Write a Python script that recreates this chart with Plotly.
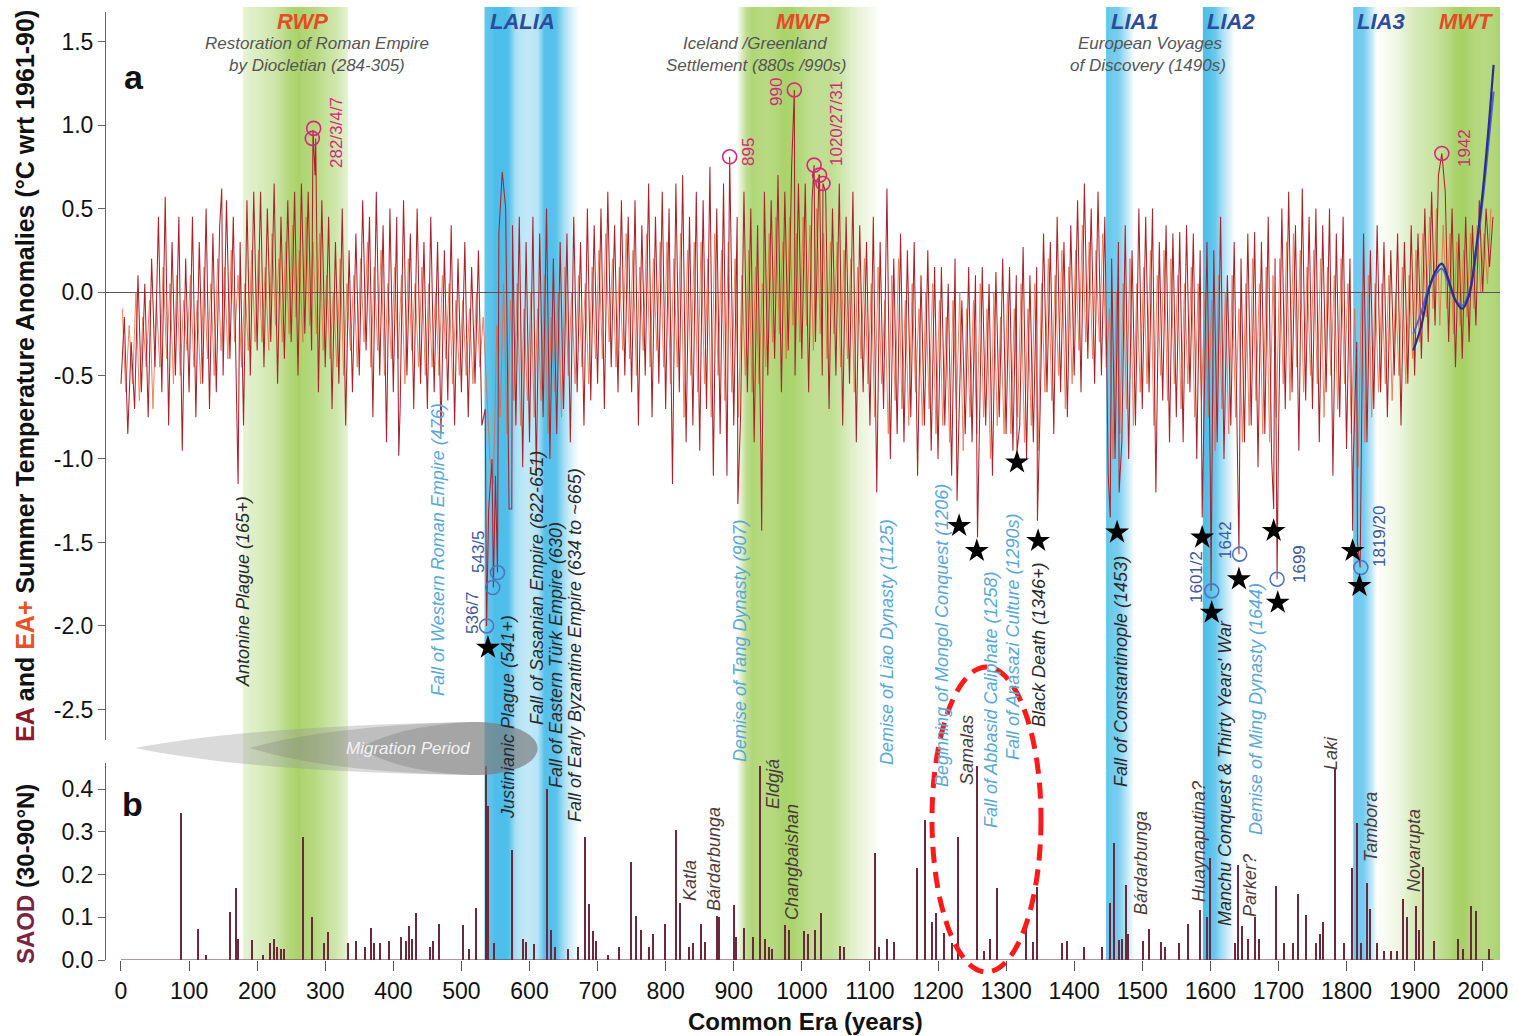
import plotly.graph_objects as go

# ---------------- DATA ----------------
# EA summer temperature anomalies, read every 5 years (0..2015)
TEMP_STEP = 5
TEMP_C00 = [-0.55, -0.15, -0.85, -0.30, -0.70, 0.10, -0.60, 0.05, -0.75, 0.20, -0.45, 0.45, -0.60, 0.40, -0.80, 0.30, -0.50, 0.45, -0.95, 0.20]
TEMP_C01 = [-0.60, 0.45, -0.75, 0.30, -0.55, 0.50, -0.70, 0.35, -0.60, 0.40, -0.50, 0.55, -0.40, 0.45, -0.60, 0.30, -0.80, 0.55, -0.50, 0.60]
TEMP_C02 = [-0.35, 0.60, -0.45, 0.50, -0.30, 0.65, -0.55, 0.45, -0.40, 0.55, -0.30, 0.60, -0.50, 0.65, -0.25, 0.60, -0.35, 0.70, -0.60, 0.55]
TEMP_C03 = [-0.45, 0.45, -0.70, 0.30, -0.55, 0.50, -0.80, 0.25, -0.60, 0.35, -0.50, 0.55, -0.35, 0.45, -0.75, 0.60, -0.50, 0.40, -0.90, 0.50]
TEMP_C04 = [-0.60, 0.45, -0.70, 0.55, -0.50, 0.35, -0.70, 0.50, -0.55, 0.30, -0.70, 0.45, -0.60, 0.30, -0.85, 0.25, -0.65, 0.40, -0.80, 0.20]
TEMP_C05 = [-0.60, 0.30, -0.75, 0.15, -0.55, 0.25, -0.80, -0.70, -1.30, -1.00, -1.10, 0.35, -0.90, 0.50, -1.30, 0.40, -0.80, 0.45, -1.05, 0.30]
TEMP_C06 = [-0.90, 0.45, -1.10, 0.35, -0.75, 0.50, -1.00, 0.20, -0.85, 0.30, -0.70, 0.35, -0.90, 0.45, -0.60, 0.30, -0.80, 0.50, -0.65, 0.40]
TEMP_C07 = [-0.55, 0.50, -0.70, 0.60, -0.45, 0.40, -0.60, 0.55, -0.50, 0.45, -0.60, 0.55, -0.80, 0.40, -0.50, 0.65, -0.75, 0.45, -0.55, 0.60]
TEMP_C08 = [-0.70, 0.50, -1.15, 0.65, -0.60, 0.70, -0.90, 0.45, -0.80, 0.60, -0.95, 0.55, -0.70, 0.75, -1.10, 0.50, -0.85, 0.65, -1.10, 0.55]
TEMP_C09 = [-0.80, 0.45, -0.75, 0.60, -0.60, 0.50, -0.90, 0.40, -1.00, 0.60, -0.50, 0.55, -0.40, 0.70, -0.60, 0.60, -0.35, 0.75, -0.50, 0.65]
TEMP_C10 = [-0.40, 0.65, -0.60, 0.55, -0.30, 0.70, -0.50, 0.60, -0.70, 0.50, -0.50, 0.65, -0.80, 0.45, -0.55, 0.60, -0.90, 0.40, -0.60, 0.30]
TEMP_C11 = [-0.80, 0.45, -1.20, 0.30, -0.70, 0.62, -1.00, 0.20, -0.85, 0.35, -0.90, 0.25, -0.75, 0.30, -1.10, 0.10, -0.80, 0.25, -0.95, 0.15]
TEMP_C12 = [-1.00, 0.15, -0.80, 0.05, -1.10, 0.20, -0.90, -0.05, -0.85, 0.15, -0.90, 0.10, -1.00, 0.15, -0.80, 0.05, -1.10, 0.12, -0.75, 0.20]
TEMP_C13 = [-0.85, 0.15, -0.95, 0.10, -0.80, 0.27, -1.00, 0.10, -0.90, 0.15, -0.70, 0.35, -0.60, 0.30, -0.85, 0.45, -0.60, 0.30, -0.75, 0.40]
TEMP_C14 = [-0.50, 0.55, -0.60, 0.65, -0.40, 0.50, -0.55, 0.60, -0.50, 0.45, -1.10, 0.20, -1.00, 0.30, -0.90, 0.40, -1.00, 0.25, -0.80, 0.50]
TEMP_C15 = [-0.70, 0.45, -0.60, 0.50, -1.20, 0.30, -0.65, 0.40, -0.90, 0.35, -0.75, 0.36, -0.90, 0.40, -0.60, 0.35, -1.00, 0.25, -0.85, 0.30]
TEMP_C16 = [-1.10, 0.25, -0.90, 0.45, -1.00, 0.10, -0.80, 0.30, -1.20, 0.20, -0.90, 0.35, -0.80, 0.36, -1.05, 0.30, -0.85, 0.45, -1.00, 0.20]
TEMP_C17 = [-0.90, 0.50, -0.70, 0.60, -0.60, 0.40, -0.95, 0.62, -0.65, 0.45, -0.70, 0.50, -0.90, 0.40, -0.60, 0.50, -1.10, 0.35, -0.75, 0.45]
TEMP_C18 = [-0.94, 0.20, -1.00, -0.30, -1.10, 0.35, -0.90, 0.25, -0.70, 0.40, -0.60, 0.30, -0.75, 0.25, -0.50, 0.35, -0.80, 0.30, -0.55, 0.40]
TEMP_C19 = [-0.50, 0.35, -0.40, 0.50, -0.30, 0.60, -0.20, 0.70, -0.35, 0.60, -0.30, 0.50, -0.45, 0.35, -0.40, 0.45, -0.30, 0.40, -0.20, 0.55]
TEMP_C20 = [0.00, 0.50, 0.15, 0.45]

# EA+ series, read every 5 years starting at year 2 (2..2012)
EAP_START = 2
EAP_C00 = [-0.10, -0.60, -0.20, -0.55, 0.00, -0.65, -0.15, -0.45, -0.05, -0.70, -0.05, -0.45, 0.15, -0.40, 0.05, -0.55, 0.10, -0.50, -0.05, -0.35]
EAP_C01 = [0.10, -0.45, -0.05, -0.55, 0.15, -0.40, 0.05, -0.50, 0.20, -0.35, 0.15, -0.40, 0.25, -0.30, 0.10, -0.45, 0.05, -0.35, 0.25, -0.30]
EAP_C02 = [0.25, -0.30, 0.15, -0.35, 0.35, -0.20, 0.20, -0.30, 0.30, -0.25, 0.40, -0.15, 0.25, -0.30, 0.45, -0.20, 0.30, -0.25, 0.35, -0.35]
EAP_C03 = [0.10, -0.40, 0.00, -0.45, 0.20, -0.50, 0.05, -0.35, 0.10, -0.45, 0.20, -0.30, 0.30, -0.45, 0.15, -0.35, 0.25, -0.50, 0.05, -0.40]
EAP_C04 = [0.15, -0.40, 0.10, -0.55, 0.20, -0.35, 0.05, -0.45, 0.15, -0.50, 0.05, -0.45, 0.00, -0.50, 0.10, -0.40, 0.05, -0.55, -0.05, -0.50]
EAP_C05 = [-0.05, -0.50, -0.10, -0.55, 0.00, -0.45, -0.15, -0.60, -1.00, -1.15, -0.20, -0.75, 0.05, -0.85, -0.05, -0.65, 0.05, -0.80, -0.10, -0.65]
EAP_C06 = [0.00, -0.75, -0.10, -0.65, 0.10, -0.85, -0.15, -0.60, 0.00, -0.75, 0.15, -0.50, 0.00, -0.55, 0.10, -0.45, 0.05, -0.55, 0.15, -0.40]
EAP_C07 = [0.25, -0.40, 0.35, -0.30, 0.20, -0.45, 0.15, -0.35, 0.35, -0.40, 0.25, -0.50, 0.15, -0.35, 0.35, -0.45, 0.20, -0.35, 0.30, -0.45]
EAP_C08 = [0.30, -0.55, 0.20, -0.45, 0.35, -0.75, 0.25, -0.50, 0.30, -0.60, 0.30, -0.55, 0.20, -0.75, 0.35, -0.50, 0.25, -0.65, 0.30, -0.60]
EAP_C09 = [0.20, -0.75, 0.10, -0.50, 0.25, -0.60, 0.15, -0.55, 0.05, -0.45, 0.35, -0.30, 0.45, -0.25, 0.30, -0.40, 0.45, -0.20, 0.35, -0.30]
EAP_C10 = [0.45, -0.20, 0.40, -0.35, 0.50, -0.25, 0.35, -0.40, 0.30, -0.25, 0.30, -0.45, 0.25, -0.40, 0.20, -0.60, 0.15, -0.40, 0.20, -0.55]
EAP_C11 = [0.05, -0.75, 0.15, -0.55, -0.05, -0.85, 0.10, -0.65, 0.20, -0.70, -0.05, -0.80, 0.05, -0.60, -0.10, -0.80, 0.00, -0.70, 0.05, -0.85]
EAP_C12 = [-0.05, -0.80, -0.15, -0.90, -0.05, -0.70, 0.00, -0.95, -0.10, -0.75, -0.05, -0.85, 0.05, -0.75, -0.10, -1.00, 0.00, -0.80, -0.15, -0.85]
EAP_C13 = [0.00, -0.85, -0.10, -0.75, 0.05, -0.90, -0.10, -0.80, 0.05, -0.95, 0.05, -0.60, 0.20, -0.65, 0.10, -0.50, 0.25, -0.70, 0.15, -0.55]
EAP_C14 = [0.25, -0.35, 0.40, -0.30, 0.30, -0.40, 0.25, -0.30, 0.35, -0.45, -0.10, -1.00, 0.00, -0.85, 0.05, -0.70, 0.20, -0.80, 0.05, -0.60]
EAP_C15 = [0.15, -0.55, 0.25, -0.80, 0.10, -0.50, 0.25, -0.65, 0.20, -0.55, 0.10, -0.70, 0.05, -0.55, 0.15, -0.75, 0.05, -0.65, 0.00, -0.75]
EAP_C16 = [-0.05, -0.95, 0.10, -0.70, 0.00, -0.85, 0.10, -0.75, -0.10, -0.90, 0.05, -0.80, 0.20, -0.65, 0.05, -0.85, 0.15, -0.90, 0.10, -0.75]
EAP_C17 = [0.20, -0.55, 0.30, -0.65, 0.35, -0.45, 0.25, -0.60, 0.15, -0.50, 0.25, -0.55, 0.20, -0.75, 0.15, -0.50, 0.10, -0.70, 0.20, -0.55]
EAP_C18 = [0.05, -0.85, -0.10, -1.05, 0.00, -0.90, 0.10, -0.75, 0.05, -0.60, 0.05, -0.55, 0.10, -0.65, 0.00, -0.50, 0.15, -0.55, 0.10, -0.40]
EAP_C19 = [0.25, -0.30, 0.35, -0.15, 0.45, -0.10, 0.50, -0.20, 0.40, -0.10, 0.35, -0.25, 0.30, -0.20, 0.25, -0.15, 0.35, -0.10, 0.40, 0.00]
EAP_C20 = [0.35, 0.05, 0.50]

# individual extreme years (EA)
TEMP_PEAK_YEARS = [65, 148, 172, 282, 286, 408, 537, 547, 553, 560, 574, 894, 906, 941, 989, 1018, 1026, 1031,
                   1228, 1258, 1316, 1346, 1453, 1466, 1588, 1601, 1642, 1693, 1698, 1809, 1816, 1820, 1940]
TEMP_PEAK_VALUES = [0.57, 0.62, -1.15, 0.97, 0.92, -0.98, -2.0, -1.77, -1.68, 0.72, -1.3, 0.81, -1.27, -1.43, 1.21, 0.76, 0.70, 0.65,
                    -1.25, -1.47, -0.96, -1.37, -1.35, -1.2, -1.35, -1.79, -1.57, -1.3, -1.72, -1.43, -1.5, -1.65, 0.83]

# instrumental smoothed curves (blue)
SMOOTH1_YEARS = [1898, 1910, 1920, 1930, 1940, 1950, 1960, 1970, 1980, 1990, 2000, 2010, 2016]
SMOOTH1_VALUES = [-0.35, -0.20, 0.00, 0.12, 0.17, 0.07, -0.05, -0.10, -0.02, 0.25, 0.60, 1.05, 1.36]
SMOOTH2_YEARS = [1898, 1910, 1920, 1930, 1940, 1950, 1960, 1970, 1980, 1990, 2000, 2010, 2016]
SMOOTH2_VALUES = [-0.25, -0.12, 0.02, 0.10, 0.14, 0.05, -0.05, -0.08, 0.00, 0.22, 0.55, 0.95, 1.20]

# marked warm years (magenta circles), cold years (blue circles), stars
WARM_YEARS = [283, 281, 894, 989, 1018, 1026, 1031, 1940]
WARM_VALUES = [0.98, 0.92, 0.81, 1.21, 0.76, 0.70, 0.65, 0.83]
COLD_YEARS = [537, 546, 553, 1602, 1643, 1698, 1821]
COLD_VALUES = [-2.0, -1.77, -1.68, -1.79, -1.57, -1.72, -1.65]
STAR_YEARS = [539, 1231, 1257, 1316, 1347, 1463, 1588, 1602, 1642, 1693, 1699, 1809, 1819]
STAR_VALUES = [-2.13, -1.40, -1.55, -1.02, -1.49, -1.44, -1.47, -1.92, -1.72, -1.43, -1.86, -1.55, -1.76]

# SAOD (30-90N) eruption peaks: (year, value)
SAOD_0_499 = [(88, 0.345), (114, 0.072), (125, 0.012), (160, 0.113), (169, 0.169), (172, 0.05), (193, 0.048),
              (209, 0.012), (219, 0.04), (225, 0.05), (230, 0.03), (235, 0.025), (240, 0.025), (267, 0.289),
              (281, 0.10), (299, 0.04), (305, 0.065), (333, 0.04), (346, 0.045), (358, 0.03), (367, 0.075),
              (372, 0.04), (380, 0.04), (394, 0.045), (412, 0.055), (419, 0.045), (424, 0.08), (428, 0.05),
              (434, 0.11), (454, 0.03), (458, 0.045), (467, 0.085)]
SAOD_500_999 = [(502, 0.082), (511, 0.025), (521, 0.122), (536, 0.455), (540, 0.36), (548, 0.04), (574, 0.257),
                (590, 0.05), (595, 0.043), (607, 0.038), (626, 0.40), (632, 0.07), (637, 0.03), (657, 0.025),
                (671, 0.03), (682, 0.289), (687, 0.132), (693, 0.067), (698, 0.045), (715, 0.012), (732, 0.03),
                (750, 0.23), (756, 0.103), (764, 0.07), (776, 0.03), (781, 0.06), (800, 0.085), (816, 0.304),
                (821, 0.133), (835, 0.03), (841, 0.04), (852, 0.085), (858, 0.043), (876, 0.103), (879, 0.10),
                (900, 0.128), (903, 0.055), (916, 0.075), (928, 0.053), (939, 0.455), (946, 0.05), (952, 0.03),
                (957, 0.025), (976, 0.082), (982, 0.07)]
SAOD_1000_1499 = [(1004, 0.067), (1010, 0.06), (1020, 0.07), (1028, 0.109), (1057, 0.032), (1062, 0.03),
                  (1108, 0.25), (1114, 0.03), (1126, 0.049), (1136, 0.043), (1170, 0.215), (1181, 0.328),
                  (1191, 0.09), (1198, 0.111), (1209, 0.063), (1221, 0.04), (1230, 0.289), (1257, 0.455),
                  (1268, 0.02), (1277, 0.05), (1287, 0.168), (1330, 0.078), (1340, 0.043), (1345, 0.17),
                  (1382, 0.04), (1390, 0.045), (1414, 0.03), (1441, 0.03), (1453, 0.134), (1459, 0.273),
                  (1466, 0.047), (1470, 0.05), (1477, 0.176), (1480, 0.06)]
SAOD_1500_2016 = [(1502, 0.045), (1510, 0.072), (1528, 0.043), (1534, 0.03), (1554, 0.04), (1568, 0.085),
                  (1585, 0.118), (1596, 0.10), (1600, 0.24), (1637, 0.04), (1641, 0.222), (1647, 0.08),
                  (1656, 0.05), (1666, 0.10), (1672, 0.05), (1696, 0.173), (1708, 0.04), (1721, 0.04),
                  (1729, 0.155), (1740, 0.106), (1756, 0.04), (1762, 0.06), (1766, 0.088), (1783, 0.45),
                  (1796, 0.04), (1809, 0.215), (1815, 0.32), (1821, 0.04), (1831, 0.18), (1835, 0.12),
                  (1845, 0.04), (1856, 0.02), (1866, 0.02), (1875, 0.02), (1883, 0.142), (1889, 0.10),
                  (1902, 0.127), (1906, 0.07), (1912, 0.218), (1928, 0.045), (1964, 0.05), (1972, 0.025),
                  (1983, 0.127), (1991, 0.115), (2010, 0.025)]

X_TICKS = list(range(0, 2001, 100))
Y_TICKS_A = [1.5, 1.0, 0.5, 0.0, -0.5, -1.0, -1.5, -2.0, -2.5]
Y_TICKTEXT_A = ["1.5", "1.0", "0.5", "0.0", "-0.5", "-1.0", "-1.5", "-2.0", "-2.5"]
Y_TICKS_B = [0.0, 0.1, 0.2, 0.3, 0.4]
Y_TICKTEXT_B = ["0.0", "0.1", "0.2", "0.3", "0.4"]

# climate periods: opacity stops (year, strength)
WARM_BANDS = {
    "RWP": [(179, 0.25), (262, 1.0), (285, 1.0), (322, 0.45), (333, 0.3)],
    "MWP": [(906, 0.1), (918, 0.7), (928, 1.0), (1000, 0.95), (1040, 0.75), (1080, 0.35), (1115, 0.0)],
    "MWT": [(1845, 0.0), (1880, 0.25), (1910, 0.55), (1940, 0.85), (1965, 1.0), (2026, 1.0)],
}
COLD_BANDS = {
    "LALIA": [(534, 1.0), (570, 1.0), (580, 0.55), (595, 0.4), (612, 0.45), (622, 0.95), (640, 0.95), (655, 0.45), (673, 0.0)],
    "LIA1": [(1447, 1.0), (1465, 0.9), (1488, 0.0)],
    "LIA2": [(1589, 1.0), (1608, 0.9), (1636, 0.0)],
    "LIA3": [(1810, 1.0), (1825, 0.9), (1845, 0.0)],
}

# ---------------- STYLE / LAYOUT ----------------
FONT = "Liberation Sans, Arial, Helvetica, sans-serif"
L, R, T, B = 106, 1500, 7, 960
W, H = R - L, B - T
GREEN = (168, 210, 104)
BLUE = (78, 190, 234)


def P(xp, yp):
    return (xp - L) / W, (B - yp) / H


def interp(x, stops):
    for (x0, a0), (x1, a1) in zip(stops, stops[1:]):
        if x0 <= x <= x1:
            return a0 + (a1 - a0) * (x - x0) / (x1 - x0)
    return 0.0


def band_shapes(stops, rgb, step=1.5):
    out = []
    x = stops[0][0]
    end = stops[-1][0]
    while x < end:
        a = interp(min(x + step / 2, end), stops)
        c = tuple(int(round(255 - a * (255 - v))) for v in rgb)
        out.append(dict(type="rect", xref="x", yref="paper", x0=x, x1=min(x + step, end) + 0.3,
                        y0=0, y1=1, fillcolor="rgb(%d,%d,%d)" % c, line=dict(width=0), layer="below"))
        x += step
    return out


temp_vals = (TEMP_C00 + TEMP_C01 + TEMP_C02 + TEMP_C03 + TEMP_C04 + TEMP_C05 + TEMP_C06 + TEMP_C07 +
             TEMP_C08 + TEMP_C09 + TEMP_C10 + TEMP_C11 + TEMP_C12 + TEMP_C13 + TEMP_C14 + TEMP_C15 +
             TEMP_C16 + TEMP_C17 + TEMP_C18 + TEMP_C19 + TEMP_C20)
series = {i * TEMP_STEP: v for i, v in enumerate(temp_vals)}
for yv, vv in zip(TEMP_PEAK_YEARS, TEMP_PEAK_VALUES):
    series[yv] = vv
temp_years = sorted(series)
temp_values = [series[k] for k in temp_years]

eap_vals = (EAP_C00 + EAP_C01 + EAP_C02 + EAP_C03 + EAP_C04 + EAP_C05 + EAP_C06 + EAP_C07 +
            EAP_C08 + EAP_C09 + EAP_C10 + EAP_C11 + EAP_C12 + EAP_C13 + EAP_C14 + EAP_C15 +
            EAP_C16 + EAP_C17 + EAP_C18 + EAP_C19 + EAP_C20)
eap_years = [EAP_START + i * TEMP_STEP for i in range(len(eap_vals))]

saod = SAOD_0_499 + SAOD_500_999 + SAOD_1000_1499 + SAOD_1500_2016
saod_years = [p[0] for p in saod]
saod_values = [p[1] for p in saod]

fig = go.Figure()

fig.add_trace(go.Scatter(x=eap_years, y=eap_vals, mode="lines", opacity=0.8,
                         line=dict(color="rgb(232,104,60)", width=1), xaxis="x", yaxis="y", hoverinfo="skip"))
fig.add_trace(go.Scatter(x=temp_years, y=temp_values, mode="lines",
                         line=dict(color="rgb(168,36,44)", width=1.05), xaxis="x", yaxis="y", hoverinfo="skip"))
fig.add_trace(go.Scatter(x=SMOOTH2_YEARS, y=SMOOTH2_VALUES, mode="lines", line_shape="spline",
                         line=dict(color="rgb(80,100,200)", width=2), xaxis="x", yaxis="y"))
fig.add_trace(go.Scatter(x=SMOOTH1_YEARS, y=SMOOTH1_VALUES, mode="lines", line_shape="spline",
                         line=dict(color="rgb(45,45,140)", width=2.2), xaxis="x", yaxis="y"))
fig.add_trace(go.Scatter(x=WARM_YEARS, y=WARM_VALUES, mode="markers",
                         marker=dict(symbol="circle-open", size=14, color="#d6287a", line=dict(width=1.6)),
                         xaxis="x", yaxis="y"))
fig.add_trace(go.Scatter(x=COLD_YEARS, y=COLD_VALUES, mode="markers",
                         marker=dict(symbol="circle-open", size=14, color="#4f74c0", line=dict(width=1.6)),
                         xaxis="x", yaxis="y"))
fig.add_trace(go.Scatter(x=STAR_YEARS, y=STAR_VALUES, mode="markers",
                         marker=dict(symbol="star", size=18, color="black"), xaxis="x", yaxis="y"))
fig.add_trace(go.Bar(x=saod_years, y=saod_values, width=2.0,
                     marker=dict(color="#6a2a3c", line=dict(width=0)), xaxis="x", yaxis="y2"))

shapes = []
for stops in WARM_BANDS.values():
    shapes += band_shapes(stops, GREEN)
for stops in COLD_BANDS.values():
    shapes += band_shapes(stops, BLUE)
shapes.append(dict(type="line", xref="x", yref="y2", x0=0, x1=2016, y0=0, y1=0,
                   line=dict(color="#6a2a3c", width=1.2), layer="below"))


def horn(tip, fill):
    ctrl = tip + 0.35 * (470 - tip)
    pts = [P(tip, 748), P(ctrl, 726), P(470, 722), P(560, 721), P(560, 776), P(470, 775), P(ctrl, 772), P(tip, 748)]
    s = lambda p: "%.5f,%.5f" % p
    path = ("M " + s(pts[0]) + " Q " + s(pts[1]) + " " + s(pts[2]) + " C " + s(pts[3]) + " " + s(pts[4]) +
            " " + s(pts[5]) + " Q " + s(pts[6]) + " " + s(pts[7]) + " Z")
    return dict(type="path", xref="paper", yref="paper", path=path, fillcolor=fill,
                line=dict(width=0), layer="above")


shapes.append(horn(135, "rgba(150,150,150,0.35)"))
shapes.append(horn(250, "rgba(125,125,125,0.30)"))
shapes.append(horn(360, "rgba(110,110,110,0.30)"))

ex0, ey0 = P(932, 972)
ex1, ey1 = P(1041, 667)
shapes.append(dict(type="circle", xref="paper", yref="paper", x0=ex0, y0=ey0, x1=ex1, y1=ey1,
                   line=dict(color="#ff1a1a", width=5, dash="16px,9px"), layer="above"))

RED_T, DBLUE_T, GRAY_T = "#e84a26", "#2c4c9c", "#555555"
MAG_T, NUMB_T = "#d6287a", "#3e5a9c"
BLACK_T, LBLUE_T, VOLC_T = "#2b2b2b", "#5aa8d6", "#4d3b3b"

LABELS = [
    ("RWP", 302, 21, RED_T, 22, 0, "bi"),
    ("LALIA", 522, 21, DBLUE_T, 22, 0, "bi"),
    ("MWP", 803, 21, RED_T, 22, 0, "bi"),
    ("LIA1", 1135, 21, DBLUE_T, 22, 0, "bi"),
    ("LIA2", 1231, 21, DBLUE_T, 22, 0, "bi"),
    ("LIA3", 1381, 21, DBLUE_T, 22, 0, "bi"),
    ("MWT", 1466, 21, RED_T, 22, 0, "bi"),
    ("Restoration of Roman Empire", 317, 43, GRAY_T, 17, 0, "i"),
    ("by Diocletian (284-305)", 317, 65, GRAY_T, 17, 0, "i"),
    ("Iceland /Greenland", 755, 43, GRAY_T, 17, 0, "i"),
    ("Settlement (880s /990s)", 756, 65, GRAY_T, 17, 0, "i"),
    ("European Voyages", 1150, 43, GRAY_T, 17, 0, "i"),
    ("of Discovery (1490s)", 1148, 65, GRAY_T, 17, 0, "i"),
    ("282/3/4/7", 336, 133, MAG_T, 17, -90, ""),
    ("895", 748, 152, MAG_T, 17, -90, ""),
    ("990", 776, 92, MAG_T, 17, -90, ""),
    ("1020/27/31", 836, 124, MAG_T, 17, -90, ""),
    ("1942", 1464, 148, MAG_T, 17, -90, ""),
    ("536/7", 472, 613, NUMB_T, 17, -90, ""),
    ("543/5", 478, 552, NUMB_T, 17, -90, ""),
    ("1601/2", 1196, 577, NUMB_T, 17, -90, ""),
    ("1642", 1225, 540, NUMB_T, 17, -90, ""),
    ("1699", 1299, 564, NUMB_T, 17, -90, ""),
    ("1819/20", 1379, 537, NUMB_T, 17, -90, ""),
    ("Antonine Plague (165+)", 243, 592, BLACK_T, 18, -90, "i"),
    ("Fall of Western Roman Empire (476)", 438, 550, LBLUE_T, 18, -90, "i"),
    ("Justinianic Plague (541+)", 508, 717, BLACK_T, 18, -90, "i"),
    ("Fall of Sasanian Empire (622-651)", 537, 588, BLACK_T, 18, -90, "i"),
    ("Fall of Eastern Türk Empire (630)", 556, 655, BLACK_T, 18, -90, "i"),
    ("Fall of Early Byzantine Empire (634 to ~665)", 575, 645, BLACK_T, 18, -90, "i"),
    ("Demise of Tang Dynasty (907)", 740, 641, LBLUE_T, 18, -90, "i"),
    ("Demise of Liao Dynasty (1125)", 887, 642, LBLUE_T, 18, -90, "i"),
    ("Beginning of Mongol Conquest (1206)", 942, 636, LBLUE_T, 18, -90, "i"),
    ("Fall of Abbasid Caliphate (1258)", 991, 700, LBLUE_T, 18, -90, "i"),
    ("Fall of Anasazi Culture (1290s)", 1013, 637, LBLUE_T, 18, -90, "i"),
    ("Black Death (1346+)", 1039, 645, BLACK_T, 18, -90, "i"),
    ("Fall of Constantinople (1453)", 1121, 672, BLACK_T, 18, -90, "i"),
    ("Manchu Conquest &amp; Thirty Years' War", 1225, 773, BLACK_T, 18, -90, "i"),
    ("Demise of Ming Dynasty (1644)", 1256, 709, LBLUE_T, 18, -90, "i"),
    ("Katla", 690, 881, VOLC_T, 18, -90, "i"),
    ("Bárdarbunga", 714, 859, VOLC_T, 18, -90, "i"),
    ("Eldgjá", 773, 784, VOLC_T, 18, -90, "i"),
    ("Changbaishan", 792, 862, VOLC_T, 18, -90, "i"),
    ("Samalas", 967, 750, VOLC_T, 18, -90, "i"),
    ("Bárdarbunga", 1141, 863, VOLC_T, 18, -90, "i"),
    ("Huaynaputina?", 1199, 842, VOLC_T, 18, -90, "i"),
    ("Parker?", 1250, 886, VOLC_T, 18, -90, "i"),
    ("Laki", 1331, 753, VOLC_T, 18, -90, "i"),
    ("Tambora", 1371, 827, VOLC_T, 18, -90, "i"),
    ("Novarupta", 1414, 851, VOLC_T, 18, -90, "i"),
    ("a", 134, 77, "#111111", 34, 0, "b"),
    ("b", 132, 804, "#111111", 34, 0, "b"),
    ("Migration Period", 408, 749, "#f2f2f2", 17, 0, "i"),
    ("Common Era (years)", 805, 1021, "#111111", 24, 0, "b"),
    ("<span style='color:#8b1a2a'>EA</span> and <span style='color:#e8502a'>EA+</span> Summer Temperature Anomalies (°C wrt 1961-90)",
     25, 376, "#111111", 25, -90, "b"),
    ("<span style='color:#7b2240'>SAOD</span> (30-90°N)", 25, 874, "#111111", 24, -90, "b"),
]

annotations = []
for txt, xp, yp, col, size, ang, sty in LABELS:
    if "i" in sty:
        txt = "<i>" + txt + "</i>"
    if "b" in sty:
        txt = "<b>" + txt + "</b>"
    ax, ay = P(xp, yp)
    annotations.append(dict(x=ax, y=ay, xref="paper", yref="paper", text=txt, showarrow=False,
                            textangle=ang, xanchor="center", yanchor="middle",
                            font=dict(family=FONT, size=size, color=col)))

dom_a = [(B - 740) / H, (B - 12) / H]
dom_b = [0, (B - 763) / H]

fig.update_layout(
    width=1519, height=1036,
    margin=dict(l=L, r=1519 - R, t=T, b=1036 - B),
    plot_bgcolor="white", paper_bgcolor="white",
    showlegend=False,
    font=dict(family=FONT, size=18, color="#111111"),
    shapes=shapes,
    annotations=annotations,
    xaxis=dict(domain=[0, 1], range=[-22, 2025.4], anchor="y2", tickvals=X_TICKS,
               ticktext=[str(t) for t in X_TICKS], ticks="outside", ticklen=10, tickwidth=1,
               tickcolor="#555555", showline=False, showgrid=False, zeroline=False,
               tickfont=dict(size=23, color="#111111"), automargin=False),
    yaxis=dict(domain=dom_a, range=[-2.683, 1.677], anchor="x", tickvals=Y_TICKS_A, ticktext=Y_TICKTEXT_A,
               ticks="outside", ticklen=7, tickcolor="#666666", showline=True, linecolor="#666666",
               showgrid=False, zeroline=True, zerolinecolor="#555555", zerolinewidth=1,
               tickfont=dict(size=23, color="#111111"), automargin=False),
    yaxis2=dict(domain=dom_b, range=[0, 0.4614], anchor="x", tickvals=Y_TICKS_B, ticktext=Y_TICKTEXT_B,
                ticks="outside", ticklen=7, tickcolor="#666666", showline=True, linecolor="#666666",
                showgrid=False, zeroline=False, tickfont=dict(size=23, color="#111111"), automargin=False),
    bargap=0,
)

fig.write_html("out.html", config={"displayModeBar": False},
               post_script="document.body.style.margin='0';document.body.style.padding='0';")
